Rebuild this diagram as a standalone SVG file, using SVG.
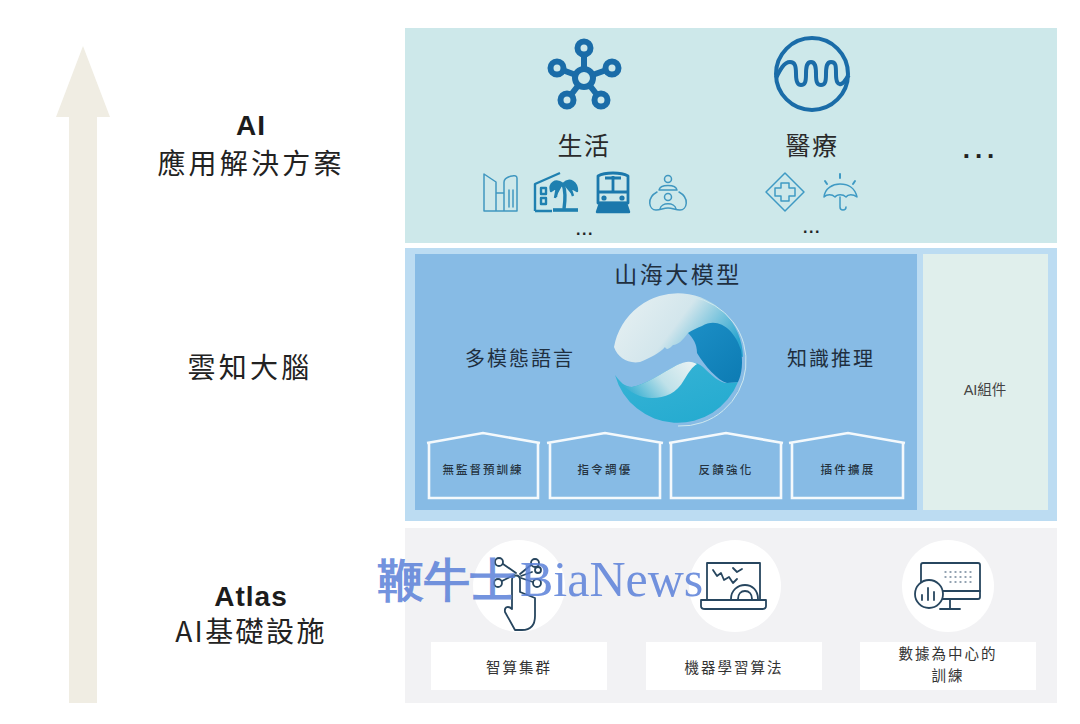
<svg xmlns="http://www.w3.org/2000/svg" width="1080" height="724" viewBox="0 0 1080 724">
<style>
text{font-family:"Liberation Sans","Noto Sans CJK TC",sans-serif;fill:#2a2a2a;text-anchor:middle}
.cjk{font-family:"Noto Sans CJK TC","Liberation Sans",sans-serif;font-weight:400}
.side{font-size:28px;letter-spacing:3.2px;fill:#222}
.b{font-weight:700;letter-spacing:1px;fill:#1c1c1c}
.cat{font-size:25px;letter-spacing:1.5px}
.mid{font-size:20px;letter-spacing:2px;fill:#1f2f3f}
.h{font-size:11.5px;letter-spacing:2.2px;fill:#25333f;font-weight:500}
.low{font-size:14.5px;letter-spacing:2px;fill:#333}
.dots{font-weight:700;font-size:17px;letter-spacing:1.5px;fill:#222}
.big{fill:none;stroke:#1a6ca8}
.ic{fill:none;stroke:#4097c0;stroke-width:1.5;stroke-linejoin:round;stroke-linecap:round}
.ic2{fill:none;stroke:#1f80b0;stroke-width:2.4;stroke-linejoin:round}
.d{fill:none;stroke:#27465f;stroke-width:1.8;stroke-linejoin:round;stroke-linecap:round}
.house{fill:none;stroke:#f4f9fc;stroke-width:2.6;stroke-linejoin:miter}
</style>
<defs>
<linearGradient id="w" x1="0" y1="0.2" x2="1" y2="0.6"><stop offset="0" stop-color="#e6f0f2"/><stop offset="0.5" stop-color="#d3e6ec"/><stop offset="0.8" stop-color="#6cbfdb"/><stop offset="1" stop-color="#2aa5d0"/></linearGradient>
<linearGradient id="t" x1="0" y1="0" x2="0.7" y2="1"><stop offset="0" stop-color="#38b4d6"/><stop offset="1" stop-color="#25abd0"/></linearGradient>
<linearGradient id="s" x1="0" y1="0.6" x2="1" y2="0.2"><stop offset="0" stop-color="#37afd2"/><stop offset="0.5" stop-color="#bfe1e9"/><stop offset="1" stop-color="#e8f2f3"/></linearGradient>
<linearGradient id="dk" x1="0" y1="0" x2="0.8" y2="1"><stop offset="0" stop-color="#1c8fc6"/><stop offset="1" stop-color="#0e7db5"/></linearGradient>
</defs>
<rect width="1080" height="724" fill="#fff"/>

<g id="axis-arrow"><path d="M83 46L110 117H97V703H69V117H56Z" fill="#f0ede3"/></g>

<g id="label-app"><text x="251" y="135" class="side b">AI</text><text x="251" y="174" class="side cjk">應用解決方案</text></g>
<g id="label-brain"><text x="250" y="378" class="side cjk">雲知大腦</text></g>
<g id="label-infra"><text x="251" y="606" class="side b">Atlas</text><text x="251" y="642" class="side cjk" style="letter-spacing:2.4px">AI基礎設施</text></g>

<g id="panel-app">
<rect x="405" y="28" width="652" height="215" fill="#cde8ea"/>
<g id="icon-life" class="big" stroke-width="6">
<path d="M584 78L584 48M584 78L612 68M584 78L601 100M584 78L567 100M584 78L557 68"/>
<circle cx="584" cy="78" r="9" fill="#cde8ea"/>
<circle cx="584" cy="48" r="6.5" fill="#cde8ea"/><circle cx="612" cy="68" r="6.5" fill="#cde8ea"/><circle cx="601" cy="100" r="6.5" fill="#cde8ea"/><circle cx="567" cy="100" r="6.5" fill="#cde8ea"/><circle cx="557" cy="68" r="6.5" fill="#cde8ea"/>
</g>
<g id="icon-med" class="big" stroke-width="4">
<circle cx="812" cy="74" r="36"/>
<path d="M776 78C780 70 784 62 790 62C795 62 796 66 796 74C796 82 798 85 801 85C805 85 806 82 806 74C806 66 807 62 811 62C815 62 816 66 816 74C816 82 817 85 821 85C825 85 826 82 826 74C826 66 827 62 831 62C836 62 836 66 836 74C836 82 838 85 841 84C845 83 846 78 849 75"/>
</g>
<text x="584" y="155" class="cat cjk">生活</text>
<text x="812" y="155" class="cat cjk">醫療</text>
<text x="981" y="158" class="dots" style="font-size:26px;letter-spacing:5px">...</text>
<g class="ic">
<path d="M484 174L496 182V211H484ZM496 193H504V211M504 211V182C504 177 517 173 517 178V211H496M509 190V207M513 190V207"/>
</g>
<g class="ic2">
<path d="M535 211V184L560 173M541 188h5v6h-5zM541 198h5v6h-5zM535 211H552"/>
<path d="M563 184C555 178 549 184 551 191L557 187L555 198M563 184C570 177 577 183 577 191L570 187L573 196M563 184C558 187 556 193 556 197" fill="#1f80b0"/>
<path d="M563 184C566 192 565 202 564 209" stroke-width="3.4"/>
<path d="M553 210H578" stroke-width="3.6"/>
</g>
<g class="ic2" style="stroke:#1b78ac">
<path d="M598 176C605 172 621 172 628 176V203H598ZM613 176V192M598 192H628M605 178H621" stroke-width="2.8"/>
<path d="M597 212H629L626 203H600Z" fill="#1b78ac"/>
<circle cx="604" cy="198" r="1.4"/><circle cx="622" cy="198" r="1.4"/>
</g>
<g class="ic">
<circle cx="668" cy="179" r="3.5"/><path d="M659 190C660 184 676 184 677 190Z"/>
<path d="M657 192C646 198 649 210 656 210C661 210 663 208 668 208C673 208 675 210 680 210C687 210 690 198 679 192"/>
<circle cx="668" cy="197" r="3.5"/><path d="M660 209C661 202 675 202 676 209"/>
</g>
<g class="ic" style="stroke:#3f9ac4">
<path d="M785 173L804 192L785 211L766 192Z"/>
<path d="M781 183H789V188H795V196H789V201H781V196H775V188H781Z"/>
</g>
<g class="ic" style="stroke:#3f9ac4">
<path d="M824 197C825 188 833 184 840 184C848 184 855 188 857 197C853 194 848 194 846 197C843 194 837 194 835 197C832 194 827 194 824 197Z"/>
<path d="M840 197V207C840 211 846 211 846 207"/>
<path d="M840 178V174M827 184L825 181M853 184L855 181" stroke-width="2"/>
</g>
<text x="585" y="235" class="dots" style="font-size:16px">...</text>
<text x="812" y="233" class="dots" style="font-size:16px">...</text>
</g>

<g id="panel-brain">
<rect x="405" y="248" width="652" height="273" fill="#bcdcf2"/>
<rect x="415" y="254" width="502" height="256" fill="#87bbe5"/>
<rect x="923" y="254" width="125" height="256" fill="#e0efec"/>
<text x="678" y="283" class="cjk" style="font-size:23px;letter-spacing:2.5px;fill:#1f2f3f">山海大模型</text>
<text x="520" y="366" class="mid cjk">多模態語言</text>
<text x="831" y="366" class="mid cjk">知識推理</text>
<text x="985" y="395" style="font-size:14.5px;fill:#444">AI組件</text>
<g id="logo">
<path d="M614 347A65 65 0 0 1 743 357L700 345L688 333C683 340 678 345 673 345C670 348 667 351 665 347C660 353 650 358 640 362C628 364 618 358 614 347Z" fill="url(#w)"/>
<path d="M615 375C620 382 625 387 632 387C645 385 662 373 677 365C687 361 697 361 703 367C712 376 720 383 727 383L738 382A65 65 0 0 1 615 375Z" fill="url(#t)"/>
<path d="M621 384C630 392 640 398 652 398C665 398 677 393 684 380C689 372 692 367 697 364C690 360 684 362 677 365C662 373 645 385 632 387C628 387 624 386 621 384Z" fill="url(#s)"/>
<path d="M688 333C692 330 697 328 702 326C718 316 735 330 741 350C743 362 742 374 738 382L727 383C717 380 705 366 697 353C697 344 693 338 688 333Z" fill="url(#dk)"/>
<path d="M692 297A65 65 0 0 1 678 426" fill="none" stroke="#cfe9ef" stroke-width="1"/>
</g>
<g id="module-1"><path class="house" d="M427 443L483 433L540 443M429 443V498H538V443"/><text x="483" y="474" class="h cjk" style="letter-spacing:2px">無監督預訓練</text></g>
<g id="module-2"><path class="house" d="M547 443L605 433L663 443M550 443V498H660V443"/><text x="605" y="474" class="h cjk">指令調優</text></g>
<g id="module-3"><path class="house" d="M669 443L726 433L783 443M671 443V498H781V443"/><text x="726" y="474" class="h cjk">反饋強化</text></g>
<g id="module-4"><path class="house" d="M789 443L848 433L905 443M792 443V498H903V443"/><text x="848" y="474" class="h cjk">插件擴展</text></g>
</g>

<g id="panel-infra">
<rect x="405" y="528" width="652" height="175" fill="#f2f2f4"/>
<circle cx="519" cy="586" r="46" fill="#fff"/><circle cx="735" cy="586" r="46" fill="#fff"/><circle cx="948" cy="586" r="46" fill="#fff"/>
<rect x="431" y="642" width="176" height="48" fill="#fff"/><rect x="646" y="642" width="176" height="48" fill="#fff"/><rect x="860" y="642" width="176" height="48" fill="#fff"/>
<g id="icon-cluster" class="d">
<path d="M512 609V580C512 574 520 574 520 580V592L535 598V616C535 626 530 630 522 630H515L505 612C504 606 509 606 512 609Z" style="fill:#fff"/>
<path d="M516 573L503 564M514 575L502 581M520 574L531 565M521 576L532 572M521 578L533 582"/>
<circle cx="499" cy="562" r="4"/><circle cx="498" cy="583" r="4"/><circle cx="535" cy="563" r="4"/><circle cx="538" cy="570" r="3"/><circle cx="537" cy="583" r="4"/>
</g>
<g id="icon-ml" class="d">
<path d="M707 600V563H760V600"/>
<path d="M701 600H766V606C766 608 764 609 762 609H705C703 609 701 608 701 606Z" fill="#fff"/>
<path d="M713 570L717 576L721 573L724 580L729 577L733 583L737 579M733 568L737 572L742 569"/>
<path d="M731 599C731 590 738 585 745 585C752 585 758 590 758 599M738 599C738 594 741 591 745 591C749 591 752 594 752 599"/>
</g>
<g id="icon-data" class="d">
<rect x="921" y="563" width="59" height="36" rx="2"/>
<path d="M921 591H980M950 599V608M940 609H960"/>
<circle cx="929" cy="594" r="14" style="fill:#fff"/>
<path d="M922 600V595M928 600V588M934 600V592"/>
<path d="M945 572h1M950 572h1M955 572h1M960 572h1M965 572h1M970 572h1M945 577h1M950 577h1M955 577h1M960 577h1M965 577h1M970 577h1M950 582h1M955 582h1M960 582h1M965 582h1M970 582h1" style="stroke:#6f8498;stroke-width:1.3"/>
</g>
<text x="519" y="673" class="low cjk">智算集群</text>
<text x="734" y="673" class="low cjk">機器學習算法</text>
<text x="948" y="659" class="low cjk">數據為中心的</text>
<text x="948" y="681" class="low cjk">訓練</text>
</g>

<g id="watermark"><text y="596" style="font-family:'Liberation Serif',serif;fill:#5a80d8;fill-opacity:0.85;text-anchor:start"><tspan x="378" style="font-size:46px;font-weight:700">鞭牛士</tspan><tspan x="520" style="font-size:50px">BiaNews</tspan></text></g>
</svg>
